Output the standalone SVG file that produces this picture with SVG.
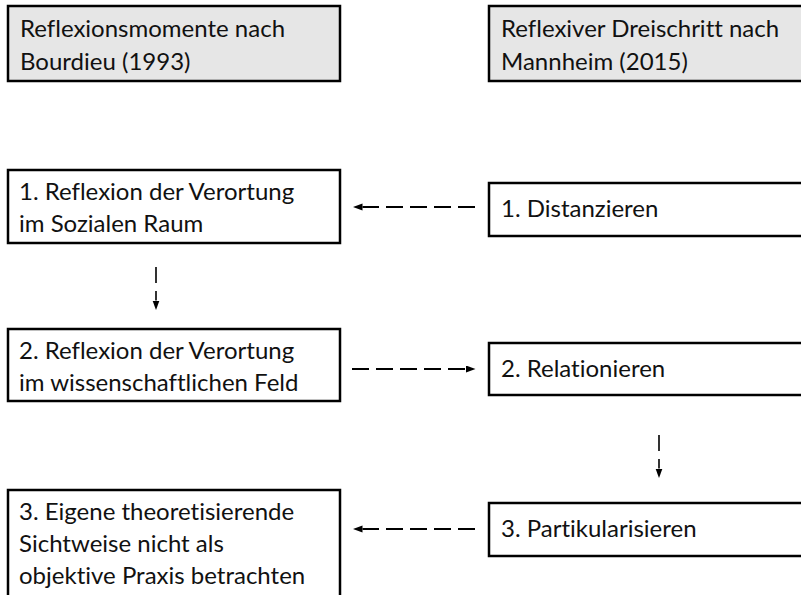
<svg xmlns="http://www.w3.org/2000/svg" width="801" height="595" viewBox="0 0 801 595">
<defs>
<style>
.box{fill:#fff;stroke:#000;stroke-width:2.5}
.hdr{fill:#e6e6e6;stroke:#000;stroke-width:2.5}
text{font-family:Lato,"Open Sans",sans-serif;font-size:24px;fill:#111;font-variant-ligatures:none;font-feature-settings:"liga" 0,"dlig" 0}
.dh{stroke:#000;stroke-width:2;stroke-dasharray:17 7;fill:none}
.dv{stroke:#000;stroke-width:1.6;stroke-dasharray:16 8;fill:none}
</style>
<marker id="ah" markerUnits="userSpaceOnUse" markerWidth="10" markerHeight="8" refX="0" refY="3.5" orient="auto">
<path d="M0,0 L9.5,3.5 L0,7 Z" fill="#000"/>
</marker>
</defs>
<g id="header-bourdieu">
<rect class="hdr" x="8" y="6" width="332" height="75"/>
<text x="20" y="37">Reflexionsmomente nach</text>
<text x="20" y="70">Bourdieu (1993)</text>
</g>
<g id="header-mannheim">
<rect class="hdr" x="489" y="6" width="330" height="75"/>
<text x="501" y="37">Reflexiver Dreischritt nach</text>
<text x="501" y="70">Mannheim (2015)</text>
</g>
<g id="b1">
<rect class="box" x="8" y="170" width="332" height="73"/>
<text x="19" y="200">1. Reflexion der Verortung</text>
<text x="19" y="232">im Sozialen Raum</text>
</g>
<g id="m1">
<rect class="box" x="489" y="183" width="330" height="53"/>
<text x="501" y="217">1. Distanzieren</text>
</g>
<g id="b2">
<rect class="box" x="8" y="329" width="332" height="72"/>
<text x="19" y="359">2. Reflexion der Verortung</text>
<text x="19" y="391">im wissenschaftlichen Feld</text>
</g>
<g id="m2">
<rect class="box" x="489" y="343" width="330" height="52"/>
<text x="501" y="377">2. Relationieren</text>
</g>
<g id="b3">
<rect class="box" x="8" y="490" width="332" height="120"/>
<text x="19" y="520">3. Eigene theoretisierende</text>
<text x="19" y="552">Sichtweise nicht als</text>
<text x="19" y="584">objektive Praxis betrachten</text>
</g>
<g id="m3">
<rect class="box" x="489" y="503" width="330" height="53"/>
<text x="501" y="537">3. Partikularisieren</text>
</g>
<g id="connectors">
<line class="dh" x1="475" y1="207" x2="362.5" y2="207" marker-end="url(#ah)"/>
<line class="dv" x1="156" y1="267" x2="156" y2="300.5" marker-end="url(#ah)"/>
<line class="dh" x1="352" y1="369" x2="466" y2="369" marker-end="url(#ah)"/>
<line class="dv" x1="659" y1="435" x2="659" y2="468.5" marker-end="url(#ah)"/>
<line class="dh" x1="475" y1="529" x2="362.5" y2="529" marker-end="url(#ah)"/>
</g>
</svg>
